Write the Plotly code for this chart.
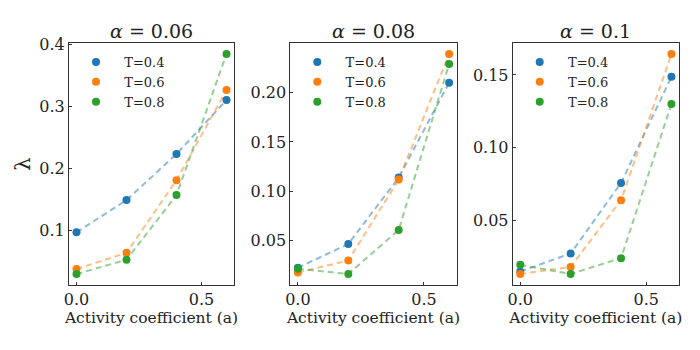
import plotly.graph_objects as go

a_vals = [0.0, 0.2, 0.4, 0.6]
temps = ["T=0.4", "T=0.6", "T=0.8"]
colors = ["#1f77b4", "#ff7f0e", "#2ca02c"]
alphas = ["0.06", "0.08", "0.1"]

# lambda values per alpha, per T
lam_006 = [
    [0.097, 0.149, 0.223, 0.310],
    [0.038, 0.064, 0.181, 0.326],
    [0.030, 0.053, 0.157, 0.384],
]
lam_008 = [
    [0.0227, 0.0467, 0.114, 0.210],
    [0.018, 0.030, 0.112, 0.239],
    [0.0217, 0.0164, 0.061, 0.229],
]
lam_01 = [
    [0.0147, 0.0271, 0.0757, 0.1487],
    [0.013, 0.0179, 0.0638, 0.1644],
    [0.0193, 0.013, 0.0239, 0.130],
]
all_lam = [lam_006, lam_008, lam_01]

y_ticks = [
    [0.1, 0.2, 0.3, 0.4],
    [0.05, 0.10, 0.15, 0.20],
    [0.05, 0.10, 0.15],
]
y_ticktext = [
    ["0.1", "0.2", "0.3", "0.4"],
    ["0.05", "0.10", "0.15", "0.20"],
    ["0.05", "0.10", "0.15"],
]

# page has an 8px body margin, so the figure is a bit smaller and positions are mapped from page px
W, H, OFF = 692, 342, 8
fx = lambda px: (px - OFF) / W
fy = lambda py: 1 - (py - OFF) / H

x_px = [(69, 234), (290.3, 456.7), (512.7, 679)]
x_domains = [[fx(a), fx(b)] for a, b in x_px]
y_domain = [fy(285), fy(43)]
font = "DejaVu Serif"
ink = "#222222"

fig = go.Figure()
for i, lam in enumerate(all_lam):
    sfx = "" if i == 0 else str(i + 1)
    leg = "legend" + sfx
    for j, vals in enumerate(lam):
        fig.add_trace(go.Scatter(x=a_vals, y=vals, mode="lines", showlegend=False,
                                 line=dict(color=colors[j], width=2, dash="6px,4px"), opacity=0.5,
                                 xaxis="x" + sfx, yaxis="y" + sfx))
    for j, vals in enumerate(lam):
        fig.add_trace(go.Scatter(x=a_vals, y=vals, mode="markers", name="\u00a0\u00a0" + temps[j],
                                 marker=dict(color=colors[j], size=8), legend=leg,
                                 xaxis="x" + sfx, yaxis="y" + sfx))
    lo = min(min(v) for v in lam)
    hi = max(max(v) for v in lam)
    pad = (hi - lo) * 0.05
    fig.update_layout({
        "xaxis" + sfx: dict(domain=x_domains[i], range=[-0.03, 0.63],
                            tickvals=[0.0, 0.5], ticktext=["0.0", "0.5"], anchor="y" + sfx,
                            title=dict(text="Activity coefficient (a)", standoff=3)),
        "yaxis" + sfx: dict(domain=y_domain, range=[lo - pad, hi + pad],
                            tickvals=y_ticks[i], ticktext=y_ticktext[i], anchor="x" + sfx),
        leg: dict(x=fx(x_px[i][0] + 7), y=fy(47), xanchor="left",
                  yanchor="top", bgcolor="rgba(0,0,0,0)",
                  font=dict(family=font, size=13, color=ink), tracegroupgap=0,
                  itemwidth=30),
    })

fig.update_xaxes(showgrid=False, zeroline=False, showline=True, mirror=True, automargin=False,
                 linecolor="#333333", linewidth=1, ticks="inside", ticklen=3,
                 tickcolor="#333333", tickfont=dict(family=font, size=16, color=ink),
                 title_font=dict(family=font, size=15.5, color=ink))
fig.update_yaxes(showgrid=False, zeroline=False, showline=True, mirror=True, automargin=False,
                 linecolor="#333333", linewidth=1, ticks="inside", ticklen=3,
                 tickcolor="#333333", tickfont=dict(family=font, size=16, color=ink))
fig.update_layout(yaxis_title=dict(text="λ", standoff=2, font=dict(family=font, size=21, color=ink)))

annotations = []
for i, a in enumerate(alphas):
    annotations.append(dict(text="<i>α</i> = " + a, x=sum(x_domains[i]) / 2, y=y_domain[1],
                            xref="paper", yref="paper", xanchor="center", yanchor="bottom",
                            yshift=-1, showarrow=False,
                            font=dict(family=font, size=19, color=ink)))

fig.update_layout(annotations=annotations, width=W, height=H, template="simple_white",
                  margin=dict(l=0, r=0, t=0, b=0), plot_bgcolor="white",
                  paper_bgcolor="white", font=dict(family=font))
fig.write_html("out.html")
